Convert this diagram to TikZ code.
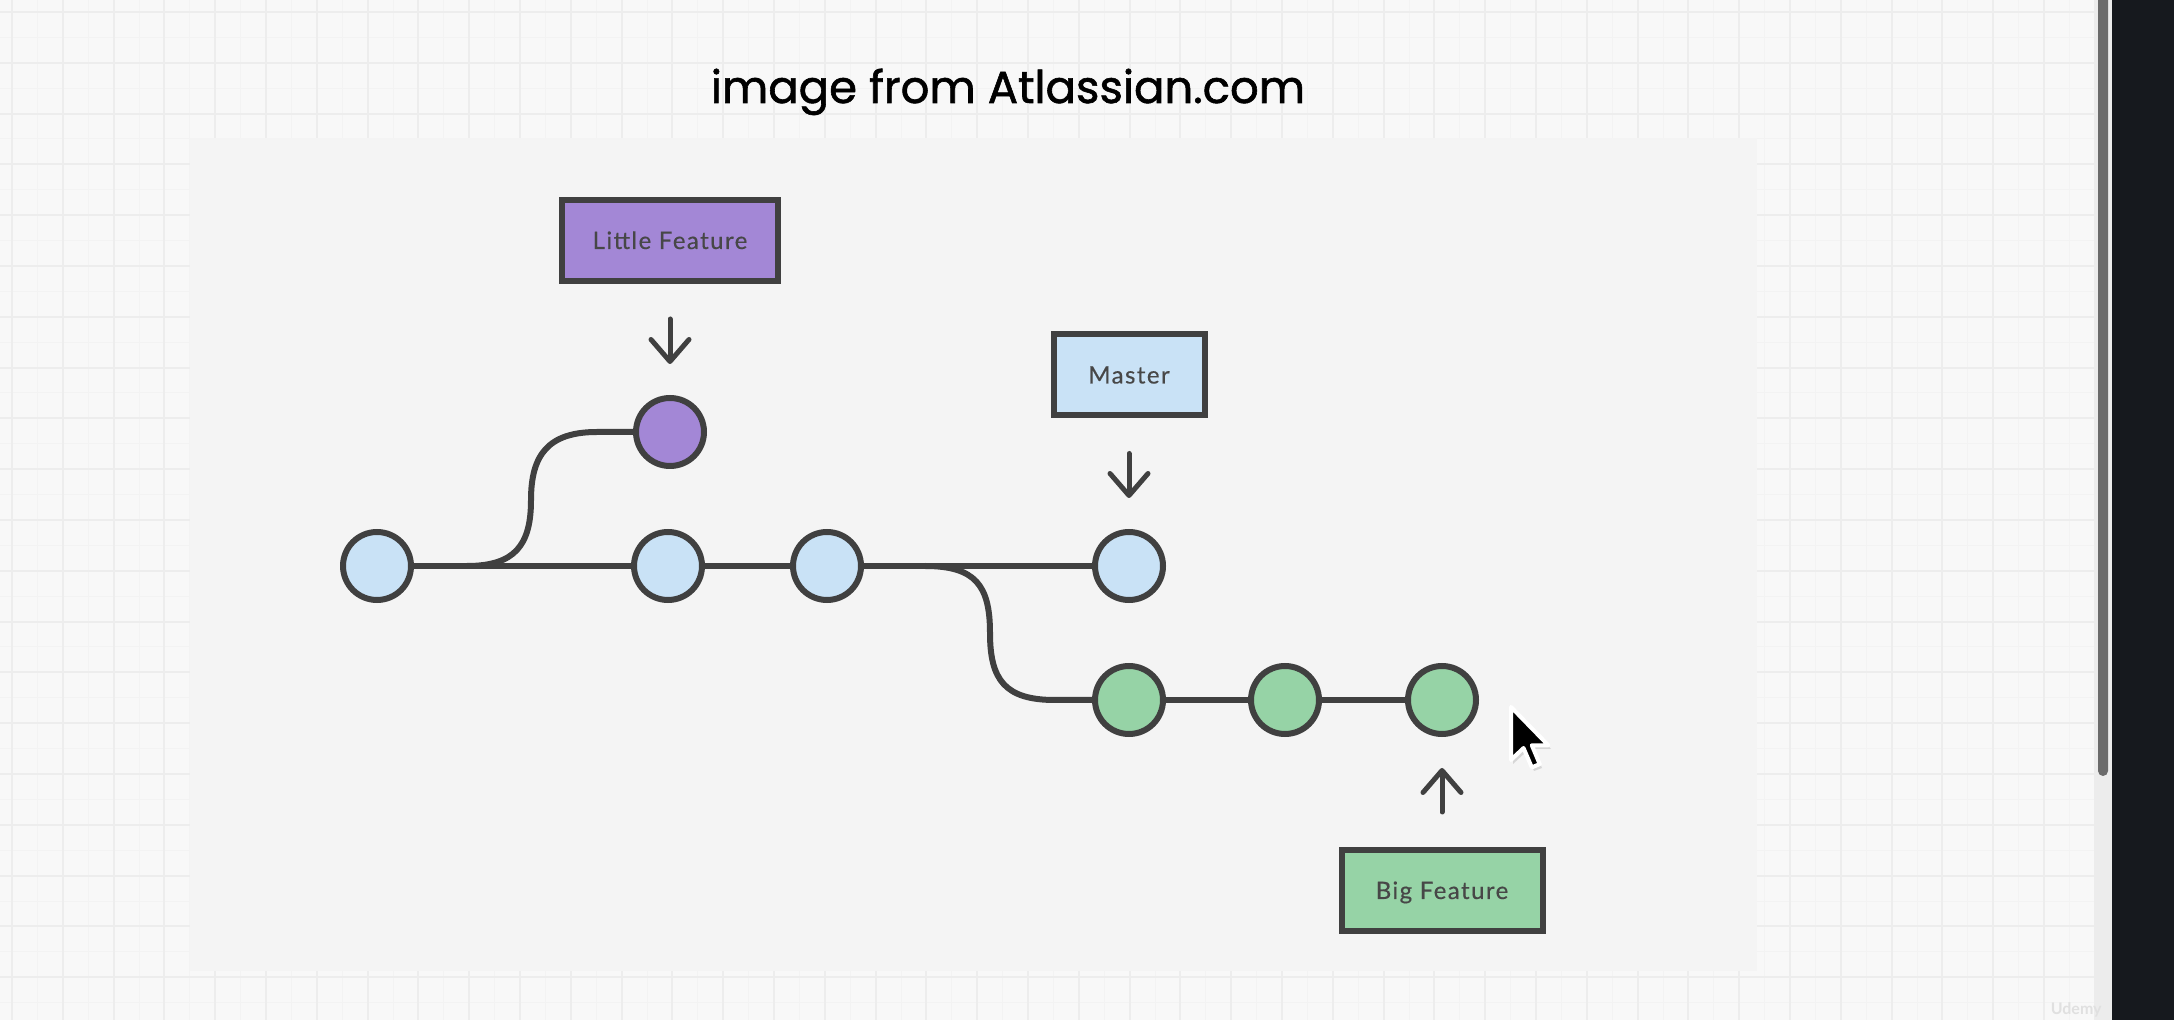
\documentclass[tikz,border=0pt]{standalone}
\usepackage{fontspec}
\setmainfont{Lato}
\newfontfamily\titlefont[FakeBold=1.3]{Poppins}
\newfontfamily\labelfont[LetterSpace=6, FakeBold=0.4]{Lato}
\usetikzlibrary{calc, arrows.meta}

\definecolor{paper}{HTML}{F8F8F8}
\definecolor{gridmajor}{HTML}{EDEDED}
\definecolor{gridminor}{HTML}{F3F3F3}
\definecolor{panel}{HTML}{F4F4F4}
\definecolor{ink}{HTML}{404040}
\definecolor{labelink}{HTML}{474747}
\definecolor{mblue}{HTML}{C9E2F6}
\definecolor{fpurple}{HTML}{A387D6}
\definecolor{fgreen}{HTML}{96D3A6}
\definecolor{track}{HTML}{ECECEC}
\definecolor{thumb}{HTML}{6B6B6B}
\definecolor{darkside}{HTML}{16191E}

\begin{document}
\begin{tikzpicture}[x=0.5pt, y=-0.5pt,
  commit/.style={circle, draw=ink, line width=3pt, minimum size=34pt, inner sep=0pt, outer sep=0pt},
  branchbox/.style={rectangle, draw=ink, line width=3pt, inner sep=0pt, outer sep=0pt,
    minimum height=40.5pt, text=labelink, text height=8.5pt, text depth=0pt,
    font=\labelfont\fontsize{12}{14}\selectfont},
  edge/.style={draw=ink, line width=3pt},
  ptr/.style={draw=ink, line width=2.5pt, line cap=round, shorten <=19pt, shorten >=17pt,
    -{Straight Barb[length=11pt, width=19pt, round]}}]
  \useasboundingbox (0,0) rectangle (2174,1020);

  % 背景网格
  \fill[paper] (0,0) rectangle (2094,1020);
  \foreach \i in {0,...,40}
    \draw[gridminor, line width=0.5pt] ({37.4+50.8*\i},0) -- ++(0,1020);
  \foreach \i in {0,...,19}
    \draw[gridminor, line width=0.5pt] (0,{37.4+50.8*\i}) -- ++(2094,0);
  \foreach \i in {0,...,41}
    \draw[gridmajor, line width=1pt] ({12+50.8*\i},0) -- ++(0,1020);
  \foreach \i in {0,...,19}
    \draw[gridmajor, line width=1pt] (0,{12+50.8*\i}) -- ++(2094,0);

  % 滚动条和右侧深色栏
  \fill[track] (2094,0) rectangle (2112,1020);
  \fill[thumb, rounded corners=2.5pt] (2098,-20) rectangle (2108,776);
  \fill[darkside] (2112,0) rectangle (2174,1020);

  \fill[panel] (190,138) rectangle (1757,971);

  \node[font=\titlefont\fontsize{22.5}{27}\selectfont, anchor=base] (T) at (1008,103) {image from Atlassian.com};

  % 提交
  \node[commit, fill=mblue] (C1) at (377,566) {};
  \node[commit, fill=mblue] (C2) at (668,566) {};
  \node[commit, fill=mblue] (C3) at (827,566) {};
  \node[commit, fill=mblue] (M) at (1129,566) {};
  \node[commit, fill=fpurple] (P) at (670,432) {};
  \node[commit, fill=fgreen] (G1) at (1129,700) {};
  \node[commit, fill=fgreen] (G2) at (1285,700) {};
  \node[commit, fill=fgreen] (G3) at (1442,700) {};

  % 分支点
  \coordinate (F1) at (467,566);
  \coordinate (F2) at (925,566);

  \draw[edge] (C1) -- (C2) -- (C3) -- (M);
  \draw[edge] (F1) .. controls (515,566) and (531,545) .. (531,500)
    .. controls (531,455) and (548,432) .. (597,432) -- (P);
  \draw[edge] (F2) .. controls (975,566) and (990,585) .. (990,633)
    .. controls (990,680) and (1005,700) .. (1055,700) -- (G1);
  \draw[edge] (G1) -- (G2) -- (G3);

  % 分支标签
  \node[branchbox, fill=fpurple, minimum width=108pt] (LF) at (670,240.5) {Little Feature};
  \node[branchbox, fill=mblue, minimum width=75.5pt] (MB) at (1129,375) {Master};
  \node[branchbox, fill=fgreen, minimum width=100.5pt] (BF) at (1442,890.5) {Big Feature};

  \draw[ptr] (LF.south) -- (P.north);
  \draw[ptr] (MB.south) -- (M.north);
  \draw[ptr] (BF.north) -- (G3.south);

  % 鼠标指针
  \fill[gray, opacity=0.25] (1513,711) -- (1513,764) -- (1526,752) -- (1534,771)
    -- (1542,768) -- (1534,749) -- (1551,749) -- cycle;
  \filldraw[fill=black, draw=white, line width=2pt, line join=round]
    (1511,707) -- (1511,760) -- (1523.5,748) -- (1531.8,767.4) -- (1539.7,764.1)
    -- (1531.8,745.3) -- (1548.3,745.3) -- cycle;

  \node[text=black!12, font=\bfseries\fontsize{8}{9}\selectfont, anchor=east, inner sep=0pt] (U) at (2102,1010) {Udemy};
\end{tikzpicture}
\end{document}
